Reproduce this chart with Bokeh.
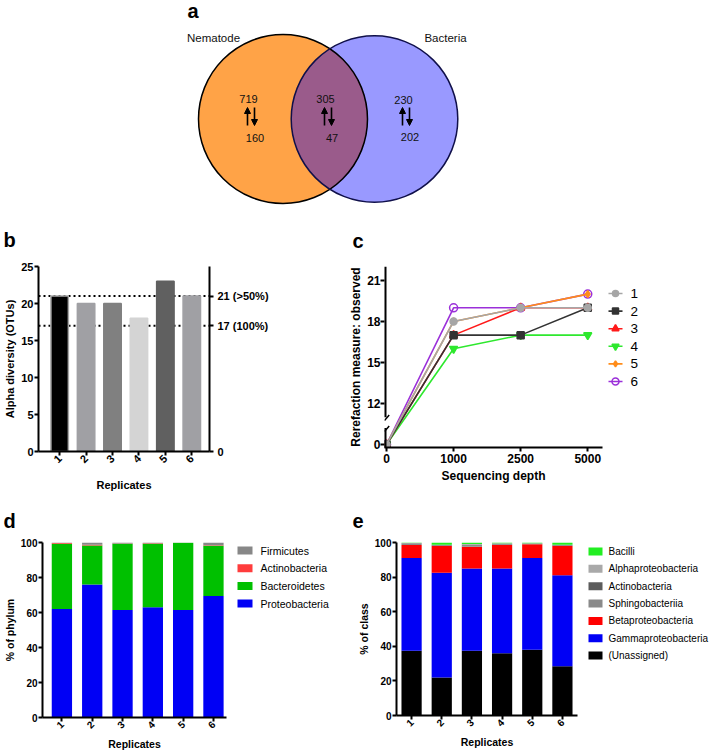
import numpy as np
from bokeh.plotting import figure
from bokeh.layouts import column, row
from bokeh.models import (Range1d, FixedTicker, LinearAxis, Span, Arrow, NormalHead,
                          ColumnDataSource)
from bokeh.core.properties import value
from bokeh.embed import file_html
from bokeh.resources import INLINE

FONT = "Liberation Sans"

# ---------------- data ----------------
venn_left_label = "Nematode"
venn_right_label = "Bacteria"
venn_up = [719, 305, 230]      # nematode only, shared, bacteria only
venn_down = [160, 47, 202]

replicates = ["1", "2", "3", "4", "5", "6"]
alpha_diversity = [21, 20, 20, 18, 23, 21]
core_levels = [21, 17]
core_labels = ["21 (>50%)", "17 (100%)"]

depths = [0, 1000, 2500, 5000]
rare_names = ["1", "2", "3", "4", "5", "6"]
rare_1 = [0, 18, 19, 19]
rare_2 = [0, 17, 17, 19]
rare_3 = [0, 17, 19, 19]
rare_4 = [0, 16, 17, 17]
rare_5 = [0, 18, 19, 20]
rare_6 = [0, 19, 19, 20]
rare_ticks = [0, 12, 15, 18, 21]

phylum_names = ["Proteobacteria", "Bacteroidetes", "Actinobacteria", "Firmicutes"]
proteobacteria = [62.0, 76.0, 61.5, 63.0, 61.5, 69.5]
bacteroidetes = [37.3, 22.3, 37.8, 36.3, 38.3, 28.6]
actinobacteria_phy = [0.4, 0.4, 0.2, 0.3, 0.1, 0.3]
firmicutes = [0.3, 1.3, 0.5, 0.4, 0.1, 1.6]

class_names = ["(Unassigned)", "Gammaproteobacteria", "Betaproteobacteria",
               "Sphingobacteriia", "Actinobacteria", "Alphaproteobacteria", "Bacilli"]
unassigned = [37.5, 22.0, 37.5, 36.0, 38.0, 28.5]
gammaproteobacteria = [53.5, 60.5, 47.5, 49.0, 53.0, 52.5]
betaproteobacteria = [7.5, 15.5, 12.5, 13.5, 8.0, 17.0]
sphingobacteriia = [0.8, 0.3, 1.2, 0.5, 0.3, 0.3]
actinobacteria_cls = [0.2, 0.2, 0.2, 0.2, 0.1, 0.2]
alphaproteobacteria = [0.2, 0.2, 0.3, 0.4, 0.2, 0.2]
bacilli = [0.3, 1.3, 0.8, 0.4, 0.4, 1.3]
pct_ticks = [0, 20, 40, 60, 80, 100]

# ---------------- helpers ----------------
def style_fig(p):
    p.grid.visible = False
    p.outline_line_color = None
    p.background_fill_color = "white"
    p.border_fill_color = "white"


def style_axis(ax, tick_px, label_px, label_standoff=2):
    ax.axis_line_width = 2
    ax.axis_line_color = "black"
    ax.major_tick_line_width = 2
    ax.major_tick_line_color = "black"
    ax.major_tick_in = 0
    ax.major_tick_out = 4
    ax.minor_tick_line_color = None
    ax.major_label_text_font = FONT
    ax.major_label_text_font_style = "bold"
    ax.major_label_text_font_size = f"{tick_px}px"
    ax.major_label_text_color = "black"
    ax.major_label_standoff = 1
    ax.axis_label_text_font = FONT
    ax.axis_label_text_font_style = "bold"
    ax.axis_label_text_font_size = f"{label_px}px"
    ax.axis_label_text_color = "black"
    ax.axis_label_standoff = label_standoff


def make_fig(g):
    p = figure(frame_width=g["fw"], frame_height=g["fh"],
               x_range=Range1d(*g["xr"]), y_range=Range1d(*g["yr"]),
               min_border_left=g["mbl"], min_border_right=g["mbr"],
               min_border_top=g["mbt"], min_border_bottom=g["mbb"],
               output_backend="svg", toolbar_location=None)
    style_fig(p)
    return p


def canvas_fig(x0, x1, y0, y1):
    """Axis-less figure whose data units are page pixels (y downwards)."""
    p = figure(frame_width=x1 - x0, frame_height=y1 - y0, x_range=Range1d(x0, x1),
               y_range=Range1d(y1, y0), x_axis_location=None, y_axis_location=None,
               min_border=0, output_backend="svg", toolbar_location=None)
    style_fig(p)
    return p


def letter(p, ch, x, y):
    p.text(x=[x], y=[y], text=[ch], text_font=value(FONT), text_font_style="bold",
           text_font_size="20px", text_baseline="alphabetic", text_align="left",
           text_color="black")


def swatch_legend(p, names, colors, x0, x1, y0, pitch, text_x, font_px):
    n = len(names)
    ys = np.array([y0 + pitch * i for i in range(n)])
    p.quad(left=[x0] * n, right=[x1] * n, top=ys - 4, bottom=ys + 4,
           fill_color=colors, line_color=None)
    p.text(x=[text_x] * n, y=ys, text=names, text_font=value(FONT),
           text_font_size=f"{font_px}px", text_baseline="middle", text_align="left",
           text_color="black")


# ---------------- panel a : Venn (+ letters b, c) ----------------
pa = canvas_fig(0, 709, 0, 254)
c1x, c1y, r1 = 282.5, 118.5, 84.5
c2x, c2y, r2 = 374.0, 118.5, 83.3
pa.circle(x=[c1x], y=[c1y], radius=r1, fill_color="#ffa347", line_color=None)
pa.circle(x=[c2x], y=[c2y], radius=r2, fill_color="#9999ff", line_color=None)
dd = c2x - c1x
aa = (r1 ** 2 - r2 ** 2 + dd ** 2) / (2 * dd)
hh = np.sqrt(r1 ** 2 - aa ** 2)
th1 = np.arctan2(hh, aa)
th2 = np.arctan2(hh, dd - aa)
ang1 = np.linspace(-th1, th1, 80)
ang2 = np.linspace(np.pi - th2, np.pi + th2, 80)
lens_x = np.concatenate([c1x + r1 * np.cos(ang1), c2x + r2 * np.cos(ang2)])
lens_y = np.concatenate([c1y + r1 * np.sin(ang1), c2y + r2 * np.sin(ang2)])
pa.patch(lens_x, lens_y, fill_color="#9a5b8b", line_color=None)
pa.circle(x=[c1x], y=[c1y], radius=r1, fill_color=None, line_color="black", line_width=1.5)
pa.circle(x=[c2x], y=[c2y], radius=r2, fill_color=None, line_color="#10104a", line_width=1.5)

letter(pa, "a", 187, 10)
letter(pa, "b", 3, 239)
letter(pa, "c", 352, 240)
pa.text(x=[c1x - 69.5, c2x + 71], y=[37, 37], text=[venn_left_label, venn_right_label],
        text_font=value(FONT), text_font_size="11.5px", text_align="center",
        text_baseline="middle", text_color="#111111")

anchor_x = np.array([247.0, 324.0, 402.0])
pa.text(x=anchor_x + 1, y=[98, 98, 99], text=[str(v) for v in venn_up],
        text_font=value(FONT), text_font_size="11px", text_align="center",
        text_baseline="middle", text_color="#111111")
pa.text(x=anchor_x + 7.5, y=[137, 137, 136], text=[str(v) for v in venn_down],
        text_font=value(FONT), text_font_size="11px", text_align="center",
        text_baseline="middle", text_color="#111111")
up_src = ColumnDataSource(dict(xs=anchor_x, ys=[125] * 3, xe=anchor_x, ye=[107] * 3))
dn_src = ColumnDataSource(dict(xs=anchor_x + 7, ys=[107] * 3, xe=anchor_x + 7, ye=[125] * 3))
for src in (up_src, dn_src):
    pa.add_layout(Arrow(end=NormalHead(size=6, fill_color="black", line_color="black"),
                        x_start="xs", y_start="ys", x_end="xe", y_end="ye",
                        source=src, line_width=1.6, line_color="black"))

# ---------------- panel b : alpha diversity ----------------
GB = dict(mbl=38, mbr=133, mbt=6, mbb=60, fw=171, fh=185, xr=(0.2, 6.67), yr=(0, 25))
pb = make_fig(GB)
xb = list(range(1, len(replicates) + 1))
for lv in core_levels:
    pb.add_layout(Span(location=lv, dimension="width", line_color="black", line_width=2,
                       line_dash="2 3", level="underlay"))
bar_fill = ["#000000", "#a0a0a4", "#808080", "#d4d4d4", "#606060", "#a0a0a4"]
bar_line = ["#a8a8a8"] + bar_fill[1:]
pb.vbar(x=xb, top=alpha_diversity, width=0.66, fill_color=bar_fill, line_color=bar_line,
        line_width=1.5)
pb.yaxis.ticker = FixedTicker(ticks=[0, 5, 10, 15, 20, 25])
pb.yaxis.axis_label = "Alpha diversity (OTUs)"
style_axis(pb.yaxis[0], 11, 11, 2)
pb.xaxis.ticker = FixedTicker(ticks=xb)
pb.xaxis.major_label_overrides = {i: lab for i, lab in zip(xb, replicates)}
pb.xaxis.major_label_orientation = np.pi / 4
pb.xaxis.axis_label = "Replicates"
style_axis(pb.xaxis[0], 11, 11, 10)
ax_r = LinearAxis(ticker=FixedTicker(ticks=[0] + core_levels),
                  major_label_overrides={lv: lab for lv, lab in zip(core_levels, core_labels)})
style_axis(ax_r, 11, 11)
ax_r.major_label_standoff = 4
pb.add_layout(ax_r, "right")

# ---------------- panel c : rarefaction (broken y axis) ----------------
LOW_BASE, LOW_MAX = 9.0, 1.2


def brk(v):
    v = np.asarray(v, dtype=float)
    return np.where(v < LOW_MAX, LOW_BASE + v, v)


GC = dict(mbl=42, mbr=2, mbt=12, mbb=58, fw=218, fh=181, xr=(-0.03, 3.22), yr=(8.78, 22.02))
pc = make_fig(GC)
xc = list(range(len(depths)))
series = [
    (rare_names[0], rare_1, "#a6a6a6", "circle", 7, "#a6a6a6"),
    (rare_names[1], rare_2, "#333333", "square", 7, "#333333"),
    (rare_names[2], rare_3, "#ff1a1a", "triangle", 8, "#ff1a1a"),
    (rare_names[3], rare_4, "#2ee82e", "inverted_triangle", 8, "#2ee82e"),
    (rare_names[4], rare_5, "#ff8c1a", "diamond", 7, "#ff8c1a"),
    (rare_names[5], rare_6, "#9b30d9", "circle", 8, None),
]
for name, vals, col, mk, sz, fc in reversed(series):
    pc.line(xc, brk(vals), line_color=col, line_width=1.6)
    pc.scatter(xc, brk(vals), marker=mk, size=sz, fill_color=fc, line_color=col,
               line_width=1.5)
xs0 = GC["xr"][0]
pc.segment(x0=[xs0, xs0], y0=[GC["yr"][0], 11.0], x1=[xs0, xs0], y1=[10.2, GC["yr"][1]],
           line_width=4, line_color="black")
pc.segment(x0=[xs0, xs0], y0=[9.95, 10.75], x1=[xs0 + 0.07, xs0 + 0.07], y1=[10.35, 11.15],
           line_width=1.5, line_color="black")
pc.yaxis.ticker = FixedTicker(ticks=[float(t) for t in brk(rare_ticks)])
pc.yaxis.major_label_overrides = {float(t): str(v) for t, v in zip(brk(rare_ticks), rare_ticks)}
pc.yaxis.axis_label = "Rerefaction measure: observed"
style_axis(pc.yaxis[0], 12, 12, 1)
pc.yaxis.major_label_standoff = 0
pc.yaxis.axis_line_color = None
pc.xaxis.ticker = FixedTicker(ticks=xc)
pc.xaxis.major_label_overrides = {i: str(d) for i, d in zip(xc, depths)}
pc.xaxis.axis_label = "Sequencing depth"
style_axis(pc.xaxis[0], 12, 12, 3)
pc.xaxis.major_label_standoff = 2

# legend for c (own pixel-space figure)
plc = canvas_fig(604, 709, 254, 505)
ly = np.array([281 + 17.6 * i for i in range(len(series))])
for i, (name, vals, col, mk, sz, fc) in enumerate(series):
    plc.segment(x0=[608], y0=[ly[i]], x1=[622], y1=[ly[i]], line_color=col, line_width=1.6)
    plc.scatter(x=[615], y=[ly[i]], marker=mk, size=sz - 1, fill_color=fc, line_color=col,
                line_width=1.5)
plc.text(x=[630] * len(series), y=ly, text=[s[0] for s in series], text_font=value(FONT),
         text_font_size="13.5px", text_baseline="middle", text_align="left",
         text_color="black")

# ---------------- strip with letters d, e ----------------
pde = canvas_fig(0, 709, 505, 535)
letter(pde, "d", 3, 520)
letter(pde, "e", 352, 520)

# ---------------- panel d : phylum ----------------
GD = dict(mbl=38, mbr=6, mbt=6, mbb=37, fw=184, fh=175, xr=(0.36, 6.43), yr=(0, 100))
pd_ = make_fig(GD)
src_d = ColumnDataSource(dict(x=xb, Proteobacteria=proteobacteria, Bacteroidetes=bacteroidetes,
                              Actinobacteria=actinobacteria_phy, Firmicutes=firmicutes))
cols_d = ["#0000f5", "#00c000", "#ff3c3c", "#878787"]
pd_.vbar_stack(phylum_names, x="x", width=0.67, color=cols_d, source=src_d, line_color=None)
pd_.yaxis.ticker = FixedTicker(ticks=pct_ticks)
pd_.yaxis.axis_label = "% of phylum"
style_axis(pd_.yaxis[0], 10, 10.5, 2)
pd_.xaxis.ticker = FixedTicker(ticks=xb)
pd_.xaxis.major_label_overrides = {i: lab for i, lab in zip(xb, replicates)}
pd_.xaxis.major_label_orientation = np.pi / 4
pd_.xaxis.axis_label = "Replicates"
style_axis(pd_.xaxis[0], 10, 10.5, 3)

pld = canvas_fig(228, 350, 535, 753)
swatch_legend(pld, phylum_names[::-1], cols_d[::-1], 233, 248, 543, 17.7, 256, 10.5)

# ---------------- panel e : class ----------------
GE = dict(mbl=37, mbr=7, mbt=7, mbb=38, fw=181, fh=173, xr=(0.5, 6.5), yr=(0, 100))
pe = make_fig(GE)
src_e = ColumnDataSource(dict(x=xb))
for n, vals in zip(class_names, [unassigned, gammaproteobacteria, betaproteobacteria,
                                 sphingobacteriia, actinobacteria_cls, alphaproteobacteria,
                                 bacilli]):
    src_e.data[n] = vals
cols_e = ["#000000", "#0000f5", "#ff0000", "#8a8a8a", "#5c5c5c", "#a9a9a9", "#22ee22"]
pe.vbar_stack(class_names, x="x", width=0.67, color=cols_e, source=src_e, line_color=None)
pe.yaxis.ticker = FixedTicker(ticks=pct_ticks)
pe.yaxis.axis_label = "% of class"
style_axis(pe.yaxis[0], 10, 10.5, 2)
pe.xaxis.ticker = FixedTicker(ticks=xb)
pe.xaxis.major_label_overrides = {i: lab for i, lab in zip(xb, replicates)}
pe.xaxis.major_label_orientation = np.pi / 4
pe.xaxis.axis_label = "Replicates"
style_axis(pe.xaxis[0], 10, 10.5, 3)

ple = canvas_fig(575, 709, 535, 753)
swatch_legend(ple, class_names[::-1], cols_e[::-1], 579, 593, 544, 17.35, 599, 10)

layout = column(pa, row(pb, pc, plc), pde, row(pd_, pld, pe, ple))
open("out.html", "w").write(file_html(layout, INLINE))
